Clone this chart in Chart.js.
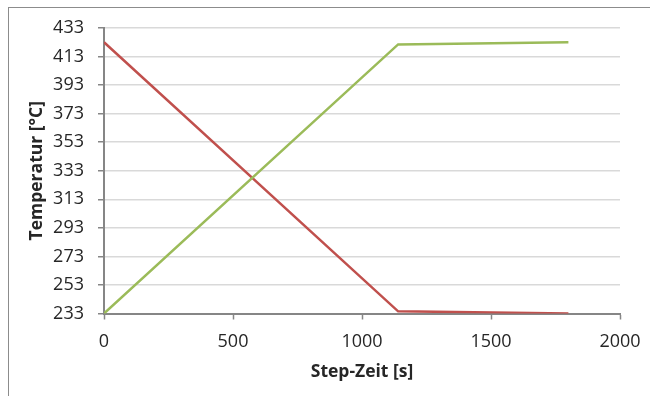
<!DOCTYPE html>
<html>
<head>
<meta charset="utf-8">
<title>Temperatur über Step-Zeit</title>
<script src="https://cdn.jsdelivr.net/npm/chart.js@4/dist/chart.umd.min.js"></script>
<style>
  html, body { margin: 0; padding: 0; background: #ffffff; }
  #wrap { position: relative; width: 650px; height: 396px; overflow: hidden; }
  #frame {
    position: absolute; left: 8px; top: 7px; width: 700px; height: 420px;
    border-left: 1px solid #8c8c8c; border-top: 1px solid #8c8c8c;
  }
  #chart { position: absolute; left: 0; top: 0; }
</style>
</head>
<body>
<div id="wrap">
  <div id="frame"></div>
  <canvas id="chart" width="650" height="396"></canvas>
</div>
<script>
// Step times [s] and temperatures [°C] of the two curves
const timeHeating = [0, 1140, 1800];
const tempHeating = [233, 421.5, 423];
const timeCooling = [0, 1140, 1800];
const tempCooling = [423, 234.5, 233];

// Axis tick values
const yTicks = [233, 253, 273, 293, 313, 333, 353, 373, 393, 413, 433];
const xTicks = [0, 500, 1000, 1500, 2000];

const toPoints = (xs, ys) => xs.map((x, i) => ({ x: x, y: ys[i] }));

const FONT = '"Open Sans", "Liberation Sans", sans-serif';
const AXIS_GREY = '#868686';
const TEXT = '#262626';

new Chart(document.getElementById('chart'), {
  type: 'scatter',
  data: {
    datasets: [
      {
        label: 'Aufheizen',
        data: toPoints(timeHeating, tempHeating),
        showLine: true,
        borderColor: '#9bbb59',
        borderWidth: 2.5,
        pointRadius: 0,
        tension: 0
      },
      {
        label: 'Abkühlen',
        data: toPoints(timeCooling, tempCooling),
        showLine: true,
        borderColor: '#c0504d',
        borderWidth: 2.5,
        pointRadius: 0,
        tension: 0
      }
    ]
  },
  options: {
    responsive: false,
    animation: false,
    layout: { padding: { left: 0, top: 28, right: 30, bottom: 0 } },
    plugins: {
      legend: { display: false },
      tooltip: { enabled: false }
    },
    scales: {
      x: {
        type: 'linear',
        min: 0,
        max: 2000,
        afterBuildTicks: (scale) => { scale.ticks = xTicks.map(v => ({ value: v })); },
        afterFit: (scale) => {
          scale.height = 82.5;
          // the outer labels may overhang the plot; the layout padding leaves room
          scale.paddingLeft = 0;
          scale.paddingRight = 0;
        },
        grid: { drawOnChartArea: false, tickColor: AXIS_GREY, tickLength: 6, tickWidth: 1.5 },
        border: { color: AXIS_GREY, width: 2 },
        ticks: {
          color: TEXT,
          font: { family: FONT, size: 18 },
          padding: 12,
          maxRotation: 0,
          callback: (v) => String(v)
        },
        title: {
          display: true,
          text: 'Step-Zeit [s]',
          color: TEXT,
          font: { family: FONT, size: 17.5, weight: 'bold' },
          padding: { top: 0, bottom: 13 }
        }
      },
      y: {
        type: 'linear',
        min: 233,
        max: 433,
        afterBuildTicks: (scale) => { scale.ticks = yTicks.map(v => ({ value: v })); },
        afterFit: (scale) => {
          scale.width = 104;
          scale.paddingTop = 0;
          scale.paddingBottom = 0;
        },
        grid: { color: '#d9d9d9', lineWidth: 1.5, tickColor: AXIS_GREY, tickLength: 6, tickWidth: 1.5 },
        border: { color: AXIS_GREY, width: 2 },
        ticks: {
          color: TEXT,
          font: { family: FONT, size: 18 },
          padding: 14,
          callback: (v) => String(v)
        },
        title: {
          display: true,
          text: 'Temperatur [°C]',
          color: TEXT,
          font: { family: FONT, size: 17.5, weight: 'bold' },
          padding: { top: 27, bottom: 0 }
        }
      }
    }
  }
});
</script>
</body>
</html>
